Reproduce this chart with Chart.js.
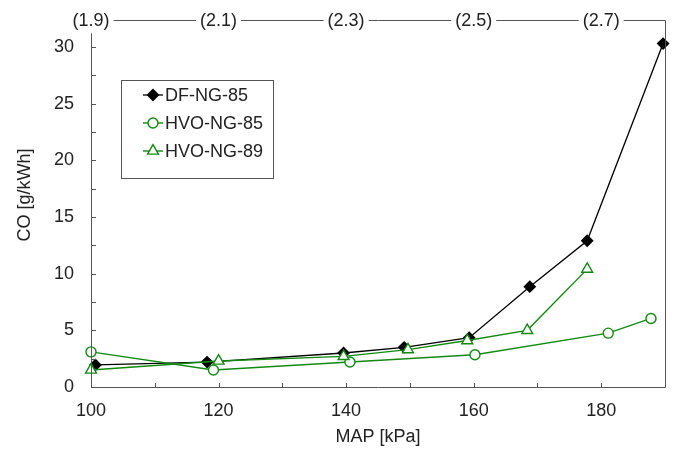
<!DOCTYPE html>
<html>
<head>
<meta charset="utf-8">
<script src="https://cdn.jsdelivr.net/npm/chart.js@4.4.1/dist/chart.umd.min.js"></script>
<style>
html,body{margin:0;padding:0;background:#fff;}
#wrap{width:678px;height:451px;position:relative;}
</style>
</head>
<body>
<div id="wrap"><canvas id="c" width="678" height="451"></canvas></div>
<script>
// ---- data ----
const seriesNames = ['DF-NG-85', 'HVO-NG-85', 'HVO-NG-89'];
const mapDF = [100.7, 118.2, 139.6, 149.1, 159.3, 168.8, 177.8, 189.7];
const coDF = [1.95, 2.2, 3.0, 3.5, 4.35, 8.85, 12.9, 30.3];
const mapHVO85 = [100.0, 119.2, 140.6, 160.2, 181.1, 187.8];
const coHVO85 = [3.1, 1.5, 2.2, 2.85, 4.75, 6.05];
const mapHVO89 = [100.0, 120.0, 139.6, 149.7, 159.0, 168.4, 177.8];
const coHVO89 = [1.5, 2.3, 2.7, 3.3, 4.1, 5.0, 10.4];
const xTickLabels = [100, 120, 140, 160, 180];
const yTickLabels = [0, 5, 10, 15, 20, 25, 30];
const lambdaLabels = ['(1.9)', '(2.1)', '(2.3)', '(2.5)', '(2.7)'];
const lambdaMap = [100, 120, 140, 160, 180];
const xTitle = 'MAP [kPa]';
const yTitle = 'CO [g/kWh]';

const FONT = "'Liberation Sans', Arial, sans-serif";
const TXT = '#222';
const AX = '#555';
const GREEN = '#128a12';

function pts(xs, ys){ return xs.map((x,i)=>({x:x, y:ys[i]})); }

const styles = [
  {color:'#000', fill:'#000', style:'rectRot', r:5.5, bw:1.3},
  {color:GREEN, fill:'#fff', style:'circle', r:5, bw:1.4},
  {color:GREEN, fill:'#fff', style:'triangle', r:6.3, bw:1.4}
];

const frame = {
  id:'frame',
  afterDatasetsDraw(chart){
    const ctx = chart.ctx;
    const xs = chart.scales.x, ys = chart.scales.y;
    const L = xs.getPixelForValue(100), R = xs.getPixelForValue(190);
    const B = ys.getPixelForValue(0), T = chart.chartArea.top;
    ctx.save();
    ctx.strokeStyle = AX; ctx.lineWidth = 1;
    ctx.beginPath();
    ctx.moveTo(Math.round(L)+0.5, ys.getPixelForValue(31.2));
    ctx.lineTo(Math.round(L)+0.5, Math.round(B)+0.5);
    ctx.lineTo(Math.round(R)+0.5, Math.round(B)+0.5);
    ctx.lineTo(Math.round(R)+0.5, Math.round(T)+0.5);
    ctx.lineTo(Math.round(L)+0.5, Math.round(T)+0.5);
    ctx.stroke();
    ctx.beginPath();
    for (let v = 0; v <= 30.01; v += 2.5){
      const y = Math.round(ys.getPixelForValue(v))+0.5;
      ctx.moveTo(L, y); ctx.lineTo(L+5, y);
    }
    for (let v = 110; v <= 180; v += 10){
      const x = Math.round(xs.getPixelForValue(v))+0.5;
      ctx.moveTo(x, B); ctx.lineTo(x, B-4);
    }
    ctx.stroke();
    ctx.font = '18px ' + FONT;
    ctx.textAlign = 'center'; ctx.textBaseline = 'middle';
    lambdaLabels.forEach((lab,i)=>{
      const x = xs.getPixelForValue(lambdaMap[i]);
      const w = ctx.measureText(lab).width;
      ctx.fillStyle = '#fff';
      ctx.fillRect(x - w/2 - 4, T - 11, w + 8, 22);
      ctx.fillStyle = TXT;
      ctx.fillText(lab, x, T + 1);
    });
    ctx.save();
    ctx.translate(25, 195);
    ctx.rotate(-Math.PI/2);
    ctx.fillStyle = TXT;
    ctx.fillText(yTitle, 0, 0);
    ctx.restore();
    ctx.strokeStyle = '#555'; ctx.lineWidth = 1;
    ctx.strokeRect(121.5, 80.5, 152, 98);
    ctx.textAlign = 'left';
    chart.data.datasets.forEach((ds,i)=>{
      const st = styles[i];
      const y = 95 + i*28;
      ctx.strokeStyle = st.color; ctx.lineWidth = st.bw;
      ctx.beginPath(); ctx.moveTo(143, y); ctx.lineTo(163, y); ctx.stroke();
      ctx.fillStyle = st.fill;
      Chart.helpers.drawPoint(ctx, {pointStyle: st.style, radius: st.r, borderWidth: st.bw, rotation:0}, 153, y);
      ctx.fillStyle = TXT;
      ctx.fillText(ds.label, 165, y + 1);
    });
    ctx.restore();
  }
};

const datasets = [
  {label: seriesNames[0], data: pts(mapDF, coDF), order: 3},
  {label: seriesNames[1], data: pts(mapHVO85, coHVO85), order: 2},
  {label: seriesNames[2], data: pts(mapHVO89, coHVO89), order: 1}
].map((d,i)=>{
  const st = styles[i];
  return Object.assign(d, {
    showLine: true, borderColor: st.color, borderWidth: st.bw,
    pointStyle: st.style, pointRadius: st.r, pointHoverRadius: st.r,
    pointBackgroundColor: st.fill, pointBorderColor: st.color, pointBorderWidth: st.bw,
    tension: 0, clip: false
  });
});

new Chart(document.getElementById('c'), {
  type: 'scatter',
  data: {datasets},
  options: {
    responsive: false, animation: false,
    layout: {padding: {left: 0, right: 13, top: 20, bottom: 0}},
    plugins: {legend: {display: false}, tooltip: {enabled: false}},
    scales: {
      x: {
        type: 'linear', min: 100, max: 190,
        grid: {display: false, drawTicks: false}, border: {display: false},
        ticks: {stepSize: 10, includeBounds: false, autoSkip: false, maxRotation: 0, padding: 13,
          color: TXT, font: {size: 18, family: FONT},
          callback: v => xTickLabels.includes(v) ? String(v) : ''},
        title: {display: true, text: xTitle, color: TXT, font: {size: 18, family: FONT}, padding: {top: 0, bottom: 3}},
        afterFit: s => { s.height = 64; s.paddingLeft = 0; s.paddingRight = 0; }
      },
      y: {
        type: 'linear', min: 0, max: 32.38,
        grid: {display: false, drawTicks: false}, border: {display: false},
        ticks: {stepSize: 2.5, includeBounds: false, autoSkip: false, padding: 17,
          color: TXT, font: {size: 18, family: FONT},
          callback: v => yTickLabels.includes(v) ? String(v) : ''},
        afterFit: s => { s.width = 91; s.paddingTop = 0; s.paddingBottom = 0; }
      }
    }
  },
  plugins: [frame]
});
</script>
</body>
</html>
